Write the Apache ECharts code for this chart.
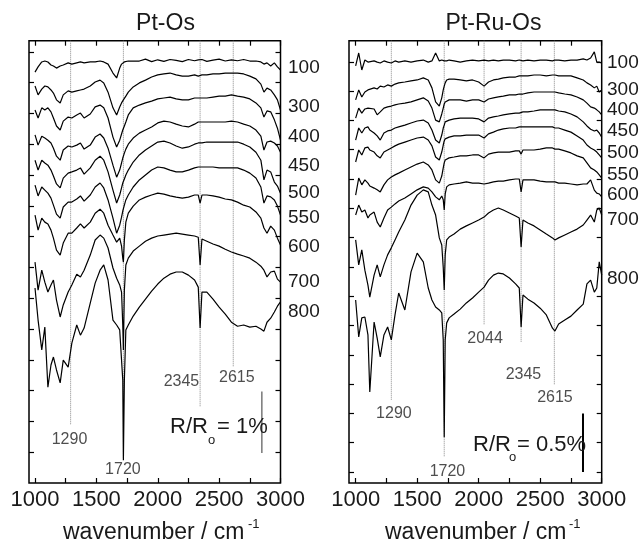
<!DOCTYPE html>
<html>
<head>
<meta charset="utf-8">
<script src="https://cdn.jsdelivr.net/npm/echarts@6/dist/echarts.min.js"></script>
<style>
  html, body { margin: 0; padding: 0; background: #fff; }
  #chart { width: 643px; height: 545px; }
</style>
</head>
<body>
<div id="chart"></div>
<script>
// wavenumber grid (cm-1) of the Pt-Os panel
var wnL = [1000, 1025, 1055, 1080, 1105, 1130, 1150, 1175, 1205, 1230, 1270, 1300, 1340, 1370, 1400, 1450, 1490, 1530, 1560, 1595,
  1635, 1665, 1690, 1705, 1715, 1720, 1728, 1740, 1760, 1800, 1850, 1900, 1950, 2000, 2050, 2100, 2150, 2200, 2250, 2300,
  2330, 2345, 2360, 2400, 2450, 2500, 2550, 2600, 2650, 2700, 2750, 2800, 2840, 2865, 2890, 2920, 2950, 2975, 3000];

// Pt-Os spectra, offset reflectance (1 tick = 10 units = 0.5 %)
var os100 = [133.4, 135.1, 136.7, 137.0, 136.7, 135.7, 135.4, 134.7, 135.4, 135.7, 136.4, 136.0, 136.4, 136.7, 136.4, 136.7, 136.7, 137.0, 136.7, 136.0,
  133.1, 131.5, 134.7, 136.0, 136.4, 136.4, 136.7, 136.7, 137.0, 137.0, 137.0, 137.6, 136.8, 137.4, 136.9, 137.5, 137.2, 136.8, 137.5, 137.1,
  137.4, 137.0, 137.5, 136.9, 137.3, 137.6, 137.0, 137.4, 137.1, 137.5, 137.0, 137.0, 136.7, 136.0, 136.4, 135.4, 136.4, 135.1, 134.1];
var os300 = [128.9, 126.0, 127.9, 128.9, 128.6, 127.6, 126.6, 124.4, 123.4, 126.0, 127.3, 126.9, 127.3, 127.6, 127.9, 128.9, 130.2, 130.8, 129.9, 126.9,
  121.8, 119.5, 122.1, 123.4, 124.0, 124.4, 125.0, 125.6, 126.9, 128.6, 129.9, 130.8, 131.8, 132.5, 132.8, 133.1, 132.5, 132.1, 132.1, 132.5,
  132.1, 132.1, 132.5, 132.5, 132.8, 132.8, 133.1, 133.1, 133.1, 132.8, 132.1, 131.2, 129.5, 126.9, 128.2, 127.6, 126.0, 124.4, 121.1];
var os400 = [121.1, 118.5, 121.8, 121.1, 121.8, 120.5, 118.5, 115.9, 114.6, 117.5, 118.8, 118.5, 119.5, 120.1, 118.5, 119.8, 122.1, 122.7, 121.8, 118.5,
  112.3, 109.1, 111.3, 113.3, 114.6, 114.9, 115.9, 117.2, 119.5, 121.8, 122.7, 123.4, 124.0, 124.7, 125.0, 125.3, 124.7, 124.4, 124.4, 125.0,
  125.0, 125.0, 125.0, 125.0, 125.3, 125.6, 125.6, 126.0, 125.6, 125.3, 124.7, 123.4, 121.8, 118.8, 120.8, 120.5, 117.9, 115.2, 111.3];
var os450 = [113.0, 109.7, 112.6, 112.0, 111.3, 110.4, 108.7, 106.1, 104.8, 108.1, 109.4, 109.1, 109.7, 110.4, 108.4, 109.7, 112.3, 113.3, 112.0, 108.7,
  103.2, 99.3, 101.6, 103.9, 105.5, 106.1, 107.1, 108.4, 110.0, 112.0, 113.6, 114.6, 115.6, 116.9, 117.5, 117.2, 116.5, 115.9, 115.6, 116.5,
  117.2, 117.2, 117.2, 117.2, 117.2, 117.2, 117.2, 117.5, 117.2, 116.5, 115.9, 114.6, 112.6, 108.1, 110.7, 111.0, 110.4, 109.4, 107.4];
var os500 = [104.8, 101.6, 104.8, 103.9, 103.2, 101.6, 99.7, 97.1, 95.8, 99.0, 100.6, 101.0, 101.6, 102.3, 100.3, 102.3, 104.8, 106.1, 104.8, 101.0,
  95.1, 90.9, 93.5, 95.8, 97.4, 97.7, 98.7, 100.0, 101.6, 104.2, 106.5, 108.1, 109.4, 110.7, 111.0, 110.4, 109.4, 108.7, 109.1, 110.0,
  110.4, 110.4, 110.4, 110.7, 110.7, 110.7, 110.7, 110.7, 110.7, 110.0, 109.1, 107.4, 104.8, 98.4, 101.6, 101.0, 97.7, 96.4, 94.1];
var os550 = [96.7, 93.2, 96.1, 95.1, 94.1, 92.5, 90.2, 87.3, 86.0, 89.6, 91.2, 91.2, 92.2, 93.2, 91.5, 93.5, 96.1, 97.4, 95.8, 91.9,
  86.0, 81.1, 83.7, 86.3, 88.3, 88.9, 90.2, 91.9, 93.5, 96.1, 98.4, 100.0, 101.6, 102.6, 102.3, 101.6, 101.0, 101.0, 101.6, 102.3,
  102.6, 102.6, 102.6, 102.6, 102.6, 102.3, 102.3, 102.3, 102.3, 101.6, 100.6, 99.0, 96.1, 90.9, 93.2, 92.9, 91.9, 89.9, 87.0];
var os600 = [87.0, 82.1, 86.0, 84.7, 84.1, 82.1, 79.5, 75.6, 74.0, 77.9, 81.1, 81.1, 82.8, 84.1, 82.8, 84.7, 87.6, 88.9, 87.6, 83.7,
  80.5, 78.2, 79.5, 76.9, 73.0, 71.7, 78.9, 84.7, 87.6, 89.9, 91.9, 92.8, 93.5, 94.1, 93.8, 93.2, 92.8, 92.5, 92.8, 93.5,
  93.5, 90.9, 93.5, 93.5, 93.2, 92.8, 92.2, 91.9, 91.2, 90.2, 89.6, 88.0, 86.0, 82.8, 81.1, 83.4, 82.1, 79.5, 77.3];
var os700 = [71.7, 62.6, 69.1, 65.2, 62.0, 64.3, 65.9, 59.4, 53.9, 57.8, 62.0, 64.3, 67.8, 66.9, 69.1, 74.0, 78.9, 80.5, 79.5, 76.3,
  69.8, 66.5, 64.3, 62.0, 51.3, 43.2, 62.6, 70.8, 73.0, 75.3, 76.9, 78.5, 79.5, 80.2, 80.5, 80.8, 81.1, 80.8, 80.5, 80.2,
  79.8, 70.8, 79.2, 78.5, 77.6, 76.9, 75.9, 75.0, 74.3, 73.7, 73.0, 71.7, 70.4, 69.1, 66.9, 68.5, 68.8, 66.2, 65.2];
var os800 = [63.3, 52.9, 43.2, 50.6, 31.1, 38.3, 40.9, 36.7, 32.5, 39.9, 37.6, 45.4, 51.3, 48.0, 50.3, 58.4, 64.9, 69.1, 70.8, 65.9,
  52.9, 51.3, 49.7, 49.7, 33.4, 7.4, 33.4, 49.7, 51.3, 54.2, 57.1, 59.7, 62.3, 64.6, 66.5, 67.8, 68.5, 68.5, 67.5, 65.9,
  63.6, 50.3, 62.0, 62.0, 59.7, 57.1, 54.8, 52.2, 50.9, 51.3, 50.6, 50.9, 50.0, 49.3, 52.2, 53.5, 55.5, 57.4, 58.8];

// wavenumber grid (cm-1) of the Pt-Ru-Os panel
var wnR = [1000, 1025, 1050, 1075, 1100, 1115, 1150, 1175, 1200, 1230, 1260, 1290, 1320, 1350, 1400, 1450, 1500, 1550, 1590, 1620,
  1650, 1680, 1700, 1712, 1720, 1728, 1740, 1760, 1800, 1850, 1900, 1950, 2000, 2044, 2080, 2120, 2160, 2200, 2250, 2300,
  2330, 2345, 2360, 2400, 2450, 2500, 2550, 2600, 2620, 2650, 2700, 2750, 2800, 2850, 2880, 2910, 2940, 2960, 2980, 3000];

// Pt-Ru-Os spectra (1 tick = 10 units = 0.25 %)
var ru100 = [138.6, 143.0, 137.2, 140.6, 139.9, 139.3, 140.3, 139.9, 139.6, 140.3, 139.9, 139.6, 140.3, 139.9, 140.3, 139.9, 140.3, 140.6, 139.9, 140.3,
  143.0, 140.3, 140.6, 140.3, 140.3, 140.6, 140.3, 140.6, 140.3, 139.9, 140.3, 140.6, 140.3, 140.6, 140.3, 140.6, 140.3, 140.6, 140.6, 140.3,
  140.6, 140.6, 140.3, 140.6, 140.3, 140.6, 140.6, 140.3, 140.6, 140.6, 140.3, 140.6, 140.6, 141.0, 140.6, 141.3, 143.4, 139.9, 139.9, 139.6];
var ru300 = [127.0, 130.4, 128.0, 129.7, 130.4, 130.0, 131.1, 130.7, 131.7, 131.4, 132.1, 131.7, 132.4, 132.8, 133.1, 133.5, 133.8, 134.5, 133.8, 131.1,
  126.3, 124.9, 127.7, 130.4, 131.7, 132.8, 133.8, 134.1, 134.1, 133.8, 133.5, 133.8, 133.1, 131.7, 133.1, 133.8, 134.1, 134.5, 134.8, 134.8,
  135.2, 135.2, 135.2, 135.2, 135.5, 135.5, 135.2, 135.5, 135.5, 135.2, 135.2, 135.2, 134.5, 133.8, 132.8, 132.1, 131.1, 131.7, 129.7, 130.4];
var ru400 = [120.8, 124.2, 122.5, 123.9, 124.2, 123.6, 123.9, 121.9, 122.9, 124.2, 124.6, 124.9, 125.3, 125.6, 125.9, 126.3, 127.0, 127.7, 126.6, 124.2,
  120.1, 119.5, 122.2, 124.2, 125.6, 126.3, 126.6, 127.0, 127.0, 127.0, 126.6, 127.0, 127.0, 126.3, 127.3, 127.7, 128.0, 128.3, 128.7, 128.7,
  129.0, 129.0, 129.0, 129.4, 129.7, 129.7, 129.7, 129.7, 129.7, 129.4, 129.0, 128.7, 128.0, 127.0, 125.9, 124.6, 124.2, 123.6, 122.9, 121.9];
var ru450 = [113.3, 117.4, 115.7, 117.4, 117.8, 116.7, 115.7, 114.7, 113.3, 115.7, 116.4, 116.7, 117.4, 117.8, 118.4, 119.1, 119.8, 120.1, 119.1, 116.7,
  113.3, 112.3, 115.0, 117.4, 118.4, 119.5, 119.8, 120.1, 120.5, 120.8, 120.8, 120.8, 120.5, 119.5, 120.8, 121.2, 121.5, 121.9, 122.2, 122.5,
  122.5, 122.5, 122.9, 122.9, 123.2, 123.6, 123.6, 123.6, 123.6, 123.2, 122.9, 122.2, 121.2, 119.5, 118.1, 117.0, 116.4, 116.7, 115.7, 114.3];
var ru500 = [105.8, 109.9, 108.2, 110.6, 110.9, 109.9, 109.2, 107.9, 107.2, 109.2, 109.9, 110.6, 111.3, 111.9, 112.6, 113.3, 114.0, 114.3, 113.3, 111.3,
  107.5, 106.5, 109.2, 111.6, 113.0, 113.7, 114.0, 114.3, 114.7, 114.7, 115.0, 115.0, 115.0, 114.0, 115.4, 116.0, 116.7, 117.1, 117.4, 117.4,
  117.8, 117.8, 117.8, 117.8, 117.8, 117.8, 117.8, 117.8, 117.4, 117.4, 116.7, 116.0, 114.7, 113.3, 111.6, 110.6, 109.9, 109.2, 108.2, 107.2];
var ru550 = [94.5, 100.3, 98.0, 99.7, 98.6, 97.6, 96.9, 96.3, 95.6, 98.0, 99.7, 100.7, 101.4, 102.0, 103.1, 104.1, 105.1, 105.8, 104.8, 103.1,
  99.7, 98.6, 101.0, 103.8, 105.5, 106.5, 106.8, 107.2, 107.5, 107.9, 107.9, 108.2, 108.2, 107.2, 108.5, 108.9, 109.2, 109.2, 109.2, 109.6,
  109.6, 108.5, 109.9, 109.9, 109.9, 110.2, 110.6, 110.6, 110.2, 110.2, 109.6, 108.9, 107.9, 107.2, 105.5, 103.8, 103.1, 102.4, 101.4, 100.3];
var ru600 = [87.7, 91.1, 88.7, 89.4, 86.7, 87.7, 88.7, 85.3, 83.6, 86.7, 89.4, 90.4, 91.5, 92.5, 93.5, 94.9, 96.3, 97.3, 96.9, 95.6,
  93.9, 92.9, 94.2, 92.9, 89.4, 94.9, 97.3, 98.0, 98.3, 98.6, 99.0, 98.6, 98.6, 98.3, 98.6, 99.0, 99.3, 99.3, 99.7, 100.0,
  100.0, 95.6, 99.7, 99.7, 99.7, 99.3, 99.0, 99.0, 99.0, 98.6, 98.6, 98.3, 98.0, 98.3, 98.3, 99.7, 96.2, 95.2, 94.9, 93.9];
var ru700 = [79.2, 70.7, 75.8, 68.9, 63.8, 59.7, 67.2, 70.7, 66.6, 70.7, 74.1, 76.5, 79.2, 81.9, 86.0, 91.1, 94.5, 96.3, 95.6, 91.1,
  87.7, 79.9, 77.5, 69.8, 62.1, 74.1, 79.2, 80.2, 81.2, 82.9, 84.0, 85.0, 86.0, 87.0, 88.4, 89.4, 90.1, 89.4, 88.4, 87.4,
  86.7, 76.8, 86.0, 85.0, 84.0, 82.6, 81.2, 79.9, 79.2, 79.9, 80.9, 81.9, 82.9, 84.3, 86.0, 87.7, 85.3, 89.4, 90.1, 87.7];
var ru800 = [58.7, 46.1, 52.6, 52.9, 46.8, 27.3, 51.2, 45.7, 39.3, 46.8, 49.5, 45.1, 53.6, 61.1, 55.3, 68.3, 74.7, 71.7, 62.8, 58.7,
  56.3, 55.3, 54.3, 45.1, 11.9, 45.1, 50.9, 52.6, 53.9, 55.6, 57.7, 59.4, 61.4, 63.1, 65.5, 67.2, 67.9, 67.6, 66.2, 64.2,
  62.8, 49.5, 60.4, 59.0, 57.7, 55.9, 53.6, 49.1, 48.1, 50.5, 51.9, 53.2, 55.3, 57.3, 64.2, 65.5, 61.4, 62.8, 71.7, 67.2];

var temps = ['100', '300', '400', '450', '500', '550', '600', '700', '800'];

// marked bands: wavenumber, lower end of the dotted guide, label anchor
var bandsL = [1290, 1720, 2345, 2615];
var bandEndL = [18.8, 8.1, 24.7, 37.7];
var bandLabL = [[1281, 14.1], [1716, 4.5], [2193, 32.8], [2644, 34.3]];
var bandsR = [1290, 1720, 2044, 2345, 2615];
var bandEndR = [24.6, 5.1, 50.2, 44.4, 29.7];
var bandLabR = [[1311, 20.1], [1746, 0], [2052, 45.4], [2364, 33.1], [2620, 25.3]];

var xTicks = [1000, 1250, 1500, 1750, 2000, 2250, 2500, 2750, 3000];
var xLabels = [1000, 1500, 2000, 2500, 3000];
var yTicksL = [10, 20, 30, 40, 50, 60, 70, 80, 90, 100, 110, 120, 130, 140];
var yTicksR = [0, 10, 20, 30, 40, 50, 60, 70, 80, 90, 100, 110, 120, 130, 140];

var FONT = "'Liberation Sans', Arial, Helvetica, sans-serif";
var INK = '#1a1a1a';
var yMaxL = 143.6, yMinR = -3.75, yMaxR = 147.2;

function pairs(xs, ys) {
  return xs.map(function (x, i) { return [x, ys[i]]; });
}

function xAx(grid, min, pos) {
  return {
    gridIndex: grid, type: 'value', min: min, max: 3000, position: pos,
    axisLine: { show: false, onZero: false }, splitLine: { show: false },
    axisTick: { inside: true, length: 5, customValues: xTicks, lineStyle: { color: '#000', width: 1.2 } },
    axisLabel: pos === 'bottom'
      ? { customValues: xLabels, fontSize: 22, color: INK, margin: 6, fontFamily: FONT,
          formatter: function (v) { return String(v); } }
      : { show: false }
  };
}

function yAx(grid, min, max, pos, ticks) {
  return {
    gridIndex: grid, type: 'value', min: min, max: max, position: pos,
    axisLine: { show: false, onZero: false }, splitLine: { show: false },
    axisTick: { inside: true, length: 5, customValues: ticks, lineStyle: { color: '#000', width: 1.2 } },
    axisLabel: { show: false }
  };
}

var series = [];
[os100, os300, os400, os450, os500, os550, os600, os700, os800].forEach(function (c) {
  series.push({ type: 'line', xAxisIndex: 0, yAxisIndex: 0, data: pairs(wnL, c), showSymbol: false,
    lineStyle: { color: '#000', width: 1.2 }, z: 3 });
});
[ru100, ru300, ru400, ru450, ru500, ru550, ru600, ru700, ru800].forEach(function (c) {
  series.push({ type: 'line', xAxisIndex: 2, yAxisIndex: 2, data: pairs(wnR, c), showSymbol: false,
    lineStyle: { color: '#000', width: 1.2 }, z: 3 });
});

// dotted guides
bandsL.forEach(function (b, i) {
  series.push({ type: 'line', xAxisIndex: 0, yAxisIndex: 0, data: [[b, yMaxL], [b, bandEndL[i]]], showSymbol: false,
    lineStyle: { color: '#888', width: 1, type: 'dotted' }, z: 2 });
});
bandsR.forEach(function (b, i) {
  series.push({ type: 'line', xAxisIndex: 2, yAxisIndex: 2, data: [[b, yMaxR], [b, bandEndR[i]]], showSymbol: false,
    lineStyle: { color: '#888', width: 1, type: 'dotted' }, z: 2 });
});

// band labels
function bandLabels(bands, pos, xi) {
  return {
    type: 'scatter', xAxisIndex: xi, yAxisIndex: xi, symbolSize: 0, z: 4,
    data: bands.map(function (b, i) { return { name: String(b), value: pos[i] }; }),
    label: { show: true, position: 'inside', formatter: '{b}', fontSize: 16, color: '#222', fontFamily: FONT }
  };
}
series.push(bandLabels(bandsL, bandLabL, 0));
series.push(bandLabels(bandsR, bandLabR, 2));

// scale bars
series.push({ type: 'line', xAxisIndex: 0, yAxisIndex: 0, data: [[2848, 9.7], [2848, 29.7]], showSymbol: false,
  lineStyle: { color: '#777', width: 1.5 } });
series.push({ type: 'line', xAxisIndex: 2, yAxisIndex: 2, data: [[2848, 0], [2848, 20]], showSymbol: false,
  lineStyle: { color: '#000', width: 2 } });

function txt(x, y, s, size, align) {
  return { type: 'text', x: x, y: y, z: 10,
    style: { text: s, fontSize: size, fontFamily: FONT, fill: INK, align: align || 'left', verticalAlign: 'middle' } };
}

var tempYL = [68, 107, 137, 166, 193, 217.5, 246.5, 281.5, 311.5];
var tempYR = [62.5, 89.5, 109.7, 131, 153, 174.7, 194.7, 220, 278.5];
var graphic = [
  txt(165.5, 23.5, 'Pt-Os', 23, 'center'),
  txt(493.5, 23.5, 'Pt-Ru-Os', 23, 'center'),
  txt(63, 533, 'wavenumber / cm', 23),
  txt(248, 524, '-1', 13),
  txt(385, 533, 'wavenumber / cm', 23),
  txt(569, 524, '-1', 13),
  txt(170, 427, 'R/R', 22),
  txt(208, 440, 'o', 13),
  txt(217, 427, '= 1%', 22),
  txt(473, 445, 'R/R', 22),
  txt(509, 457, 'o', 13),
  txt(517, 445, '= 0.5%', 22)
];
temps.forEach(function (t, i) {
  graphic.push(txt(288, tempYL[i], t, 19));
  graphic.push(txt(607, tempYR[i], t, 19));
});

var chart = echarts.init(document.getElementById('chart'));
chart.setOption({
  animation: false,
  backgroundColor: '#fff',
  grid: [
    { left: 29, top: 40.7, width: 251.5, height: 442.3, show: true, borderColor: '#000', borderWidth: 1.5, backgroundColor: 'transparent' },
    { left: 349, top: 40.7, width: 252.7, height: 442.3, show: true, borderColor: '#000', borderWidth: 1.5, backgroundColor: 'transparent' }
  ],
  xAxis: [xAx(0, 951, 'bottom'), xAx(0, 951, 'top'), xAx(1, 946, 'bottom'), xAx(1, 946, 'top')],
  yAxis: [yAx(0, 0, yMaxL, 'left', yTicksL), yAx(0, 0, yMaxL, 'right', yTicksL),
          yAx(1, yMinR, yMaxR, 'left', yTicksR), yAx(1, yMinR, yMaxR, 'right', yTicksR)],
  series: series,
  graphic: graphic
});
</script>
</body>
</html>
